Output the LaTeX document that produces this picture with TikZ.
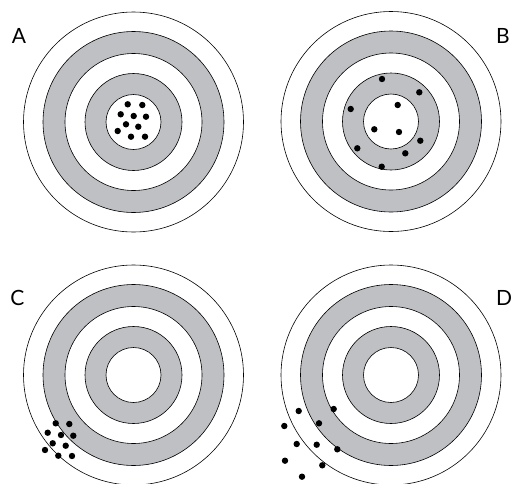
\documentclass[tikz,border=0pt]{standalone}
\usepackage{fontspec}
\setmainfont{Lato}
\definecolor{ringgray}{RGB}{190,192,196}
\tikzset{
  ringline/.style={draw=black, line width=0.6pt},
  shot/.style={fill=black},
  lbl/.style={font=\fontsize{21}{21}\selectfont, inner sep=0pt, anchor=center}
}
\newcommand{\mytarget}[2]{%
  \fill[white, ringline] (#1,#2) circle (110);
  \fill[ringgray, ringline] (#1,#2) circle (90.5);
  \fill[white, ringline] (#1,#2) circle (68.5);
  \fill[ringgray, ringline] (#1,#2) circle (48.5);
  \fill[white, ringline] (#1,#2) circle (27.5);
}
\begin{document}
\begin{tikzpicture}[x=1pt,y=-1pt]
\useasboundingbox (0,0) rectangle (515,483);
\mytarget{133.5}{122}
\mytarget{391}{121.5}
\mytarget{133.5}{375}
\mytarget{391}{375}
\node[lbl] (la) at (19,36) {A};
\node[lbl] (lb) at (503,36) {B};
\node[lbl] (lc) at (17.5,297.5) {C};
\node[lbl] (ld) at (504,297.5) {D};
% A shots
\foreach \x/\y in {127.7/104.3,142.3/105,120.7/114.3,133.7/116,146/116.7,126/124.3,138.3/126.7,117.7/131,131/136.7,145/136.7}
  \fill[shot] (\x,\y) circle (3.2);
% B shots
\foreach \x/\y in {382/79,419.3/92.3,397.7/105,350.7/109,374.3/129.3,399/132,420.3/140.7,357.3/148.3,405.3/153.3,381.7/166.7}
  \fill[shot] (\x,\y) circle (3.2);
% C shots
\foreach \x/\y in {55.7/423.3,69.3/424,47.7/432.7,61/435,73.3/435.7,52.7/443.3,65.7/445.7,45/450,58.3/455.7,72/456}
  \fill[shot] (\x,\y) circle (3.2);
% D shots
\foreach \x/\y in {333.7/409,298.7/411,319/423.3,284.3/426,296.7/444,316.7/444.7,337.3/449.3,285/460.7,322.3/465.3,302/476.7}
  \fill[shot] (\x,\y) circle (3.2);
\end{tikzpicture}
\end{document}
